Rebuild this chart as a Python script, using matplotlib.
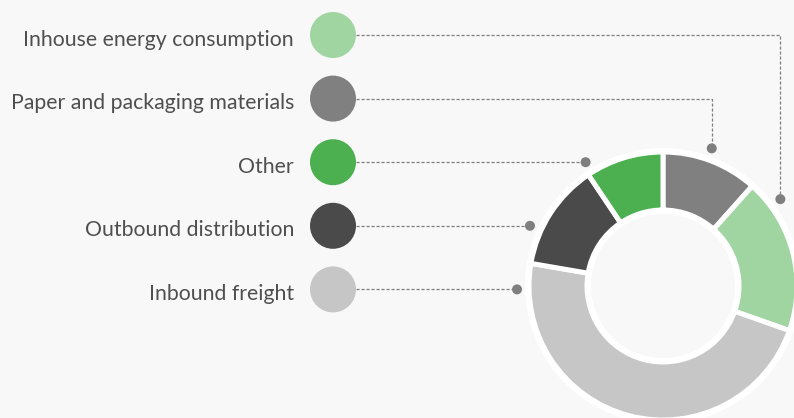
import matplotlib
matplotlib.use("Agg")
import matplotlib.pyplot as plt
import numpy as np
from matplotlib.patches import Circle, Wedge

# ---- data ----
legend_labels = ["Inhouse energy consumption", "Paper and packaging materials",
                 "Other", "Outbound distribution", "Inbound freight"]
legend_colors = ["#a0d5a2", "#808080", "#4caf50", "#4a4a4a", "#c6c6c6"]

# pie order (clockwise from 12 o'clock)
pie_labels = ["Paper and packaging materials", "Inhouse energy consumption",
              "Inbound freight", "Outbound distribution", "Other"]
pie_values = [11.6, 18.8, 47.3, 12.9, 9.4]

W, H = 794, 418
BG = "#f8f8f8"
fig = plt.figure(figsize=(W / 100, H / 100), dpi=100, facecolor=BG)
ax = fig.add_axes([0, 0, 1, 1])
ax.set_facecolor(BG)

def Y(py):
    return H - py

cx, cy = 663, 286
R_out, R_in = 134, 76
color_of = dict(zip(legend_labels, legend_colors))

# white ring behind donut
ax.add_patch(Wedge((cx, Y(cy)), R_out + 4, 0, 360, width=R_out - R_in + 8,
                   facecolor="white", edgecolor="none", zorder=1))
wedges, _ = ax.pie(pie_values, center=(cx, Y(cy)), radius=R_out, startangle=90,
                   counterclock=False, colors=[color_of[l] for l in pie_labels],
                   wedgeprops=dict(width=R_out - R_in, edgecolor="white", linewidth=3.6))
for w in wedges:
    w.set_zorder(2)

# legend
leg_x = 333
leg_y0, leg_dy = 35, 63.6
circ_r = 23
text_x = 294
R_dot = 146
line_col = "#7f7f7f"
# angle (deg) where the vertical connectors of the top two legend items meet the ring
vert_angles = {"Inhouse energy consumption": 36.5, "Paper and packaging materials": 70.5}

for i, (lab, col) in enumerate(zip(legend_labels, legend_colors)):
    py = leg_y0 + i * leg_dy
    ax.add_patch(Circle((leg_x, Y(py)), circ_r, facecolor=col, edgecolor="none", zorder=3))
    ax.text(text_x, Y(py + 10.5), lab, ha="right", va="baseline", fontsize=15.3,
            family=["Lato", "DejaVu Sans"], color="#4f4f4f", zorder=3)
    if lab in vert_angles:
        a = np.deg2rad(vert_angles[lab])
        dx_, dy_ = cx + R_dot * np.cos(a), cy - R_dot * np.sin(a)
        xs = [leg_x + circ_r, dx_, dx_]
        ys = [Y(py), Y(py), Y(dy_)]
    else:
        dy_ = py
        dx_ = cx - np.sqrt(R_dot ** 2 - (cy - py) ** 2)
        xs = [leg_x + circ_r, dx_]
        ys = [Y(py), Y(py)]
    ax.plot(xs, ys, color=line_col, lw=0.9, ls=(0, (2.5, 1.5)), zorder=2)
    ax.add_patch(Circle((dx_, Y(dy_)), 5, facecolor=line_col, edgecolor="none", zorder=3))

ax.set_xlim(0, W)
ax.set_ylim(0, H)
ax.set_aspect("equal")
ax.axis("off")
fig.savefig("out.png", dpi=100, facecolor=BG)
